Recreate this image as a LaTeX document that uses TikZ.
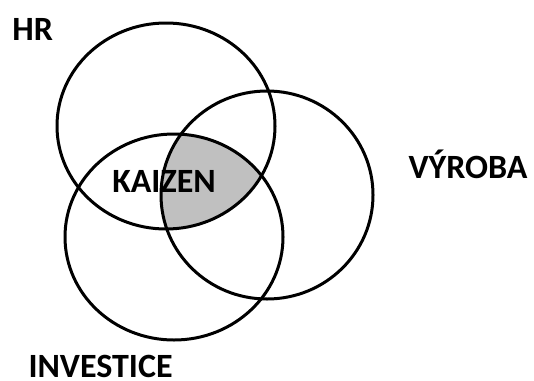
\documentclass[tikz,border=0pt]{standalone}
\usepackage{fontspec}
\setmainfont{Carlito}
\definecolor{kaizengray}{RGB}{192,192,192}
\begin{document}
\begin{tikzpicture}[x=1pt, y=-1pt, line width=3pt,
    lbl/.style={font=\fontsize{34}{40}\selectfont\bfseries, inner sep=0pt}]
    \useasboundingbox (0,0) rectangle (534,380);
    % shared part of all three sets
    \begin{scope}
        \clip (166,126) ellipse (109 and 103);
        \clip (267,195) ellipse (106 and 104);
        \fill[kaizengray] (174,237) ellipse (109 and 103);
    \end{scope}

    % the three sets
    \draw (166,126) ellipse (109 and 103);
    \draw (267,195) ellipse (106 and 104);
    \draw (174,237) ellipse (109 and 103);

    \node[lbl, anchor=west] (hr) at (11,29) {HR};
    \node[lbl, anchor=west] (vyroba) at (407,164) {VÝROBA};
    \node[lbl, anchor=west] (investice) at (27,366) {INVESTICE};
    \node[lbl] (kaizen) at (164,181) {KAIZEN};
\end{tikzpicture}
\end{document}
